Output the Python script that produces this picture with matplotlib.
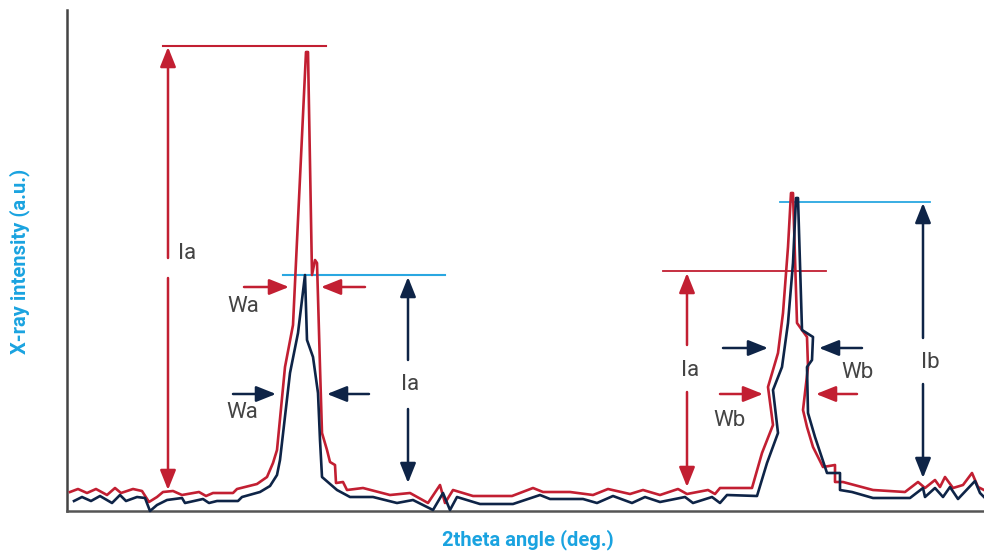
import matplotlib.pyplot as plt

# Data (2theta position, intensity in arbitrary units)
red_x = [70, 78, 87, 96, 107, 115, 121, 133, 142, 149, 157, 163, 173, 182, 199, 206, 213, 233, 237, 257,
         267, 273, 277, 285, 293, 306, 308, 312, 315, 317, 318, 320, 322, 327, 330, 335, 336, 343, 347, 363,
         390, 410, 428, 440, 445, 453, 473, 512, 533, 543, 570, 593, 608, 630, 643, 660, 678, 687, 708, 715,
         720, 752, 762, 773, 768, 778, 783, 788, 791, 793, 797, 807, 808, 803, 807, 813, 823, 835, 835, 843,
         873, 905, 918, 925, 935, 940, 945, 953, 963, 972, 978, 984]
red_y = [19, 22, 18, 22, 16, 23, 18, 22, 20, 9, 14, 19, 20, 16, 19, 15, 18, 18, 22, 27,
         34, 48, 61, 144, 186, 459, 459, 236, 251, 248, 214, 144, 78, 61, 49, 46, 28, 29, 21, 23,
         16, 18, 8, 26, 8, 21, 15, 15, 23, 19, 19, 16, 22, 17, 21, 16, 22, 17, 21, 17,
         23, 23, 58, 86, 124, 158, 198, 264, 318, 318, 188, 174, 144, 101, 84, 64, 44, 46, 29, 29,
         21, 19, 29, 23, 31, 24, 34, 23, 26, 38, 24, 21]

navy_x = [74, 82, 91, 100, 112, 120, 126, 137, 145, 150, 157, 167, 182, 185, 203, 209, 217, 238, 242, 260,
          270, 277, 280, 290, 298, 305, 307, 313, 318, 320, 322, 337, 350, 373, 397, 413, 433, 443, 450, 457,
          480, 513, 540, 550, 583, 597, 613, 632, 645, 660, 685, 693, 712, 720, 727, 757, 767, 778, 773, 782,
          788, 793, 796, 798, 802, 813, 812, 807, 808, 815, 827, 840, 840, 852, 873, 910, 923, 925, 935, 943,
          950, 958, 975, 980, 984]
navy_y = [10, 14, 10, 15, 8, 16, 10, 14, 13, 0, 6, 11, 13, 8, 12, 8, 10, 10, 14, 19,
          25, 36, 51, 138, 178, 236, 171, 154, 118, 71, 34, 21, 14, 14, 8, 11, 1, 18, 1, 14,
          7, 7, 16, 12, 12, 8, 15, 8, 14, 9, 14, 8, 14, 8, 16, 15, 48, 78, 121, 144,
          188, 248, 313, 313, 181, 174, 151, 144, 98, 74, 38, 38, 21, 19, 13, 13, 23, 14, 23, 14,
          24, 12, 30, 18, 14]

RED = '#C21F32'
NAVY = '#0E2447'
BLUE = '#2AA7E1'
GRAY = '#444444'

plt.rcParams['font.family'] = ['Roboto', 'DejaVu Sans']

fig = plt.figure(figsize=(9.84, 5.53), dpi=100)
ax = fig.add_axes([67 / 984, 42 / 553, 917 / 984, 501 / 553])
ax.set_xlim(67, 984)
ax.set_ylim(0, 501)

ax.plot(red_x, red_y, color=RED, lw=1.9, clip_on=False, zorder=3)
ax.plot(navy_x, navy_y, color=NAVY, lw=1.9, clip_on=False, zorder=4)

# reference lines
ax.plot([163, 326], [465, 465], color=RED, lw=1.5)
ax.plot([283, 445], [236, 236], color=BLUE, lw=1.5)
ax.plot([663, 826], [240, 240], color=RED, lw=1.3)
ax.plot([780, 930], [309, 309], color=BLUE, lw=1.3)


def arrow(x0, y0, x1, y1, color):
    ax.annotate('', xy=(x1, y1), xytext=(x0, y0),
                arrowprops=dict(arrowstyle='-|>,head_length=0.6,head_width=0.24',
                                mutation_scale=20, lw=1.8, color=color,
                                shrinkA=0, shrinkB=0), zorder=5)


def label(x, y, s, ha='center'):
    ax.text(x, y, s, ha=ha, va='center', fontsize=16, color=GRAY, zorder=6)


# left peak intensities
arrow(168, 253, 168, 464, RED)
arrow(168, 233, 168, 21, RED)
label(178, 258, 'Ia', ha='left')
arrow(408, 151, 408, 234, NAVY)
arrow(408, 102, 408, 28, NAVY)
label(410, 126, 'Ia')

# left peak widths
arrow(244, 224, 289, 224, RED)
arrow(365, 224, 321, 224, RED)
label(243, 204, 'Wa')
arrow(233, 117, 276, 117, NAVY)
arrow(369, 117, 327, 117, NAVY)
label(242, 98, 'Wa')

# right peak intensities
arrow(687, 166, 687, 238, RED)
arrow(687, 119, 687, 24, RED)
label(690, 141, 'Ia')
arrow(923, 173, 923, 308, NAVY)
arrow(923, 127, 923, 33, NAVY)
label(930, 149, 'Ib')

# right peak widths
arrow(723, 163, 768, 163, NAVY)
arrow(862, 163, 819, 163, NAVY)
label(857, 138, 'Wb')
arrow(720, 117, 763, 117, RED)
arrow(857, 117, 816, 117, RED)
label(729, 91, 'Wb')

for side in ['top', 'right']:
    ax.spines[side].set_visible(False)
ax.spines['left'].set_color('#444444')
ax.spines['left'].set_linewidth(1.8)
ax.spines['bottom'].set_color('#555555')
ax.spines['bottom'].set_linewidth(1.8)
ax.set_xticks([])
ax.set_yticks([])

fig.text(20 / 984, 1 - 261 / 553, 'X-ray intensity (a.u.)', rotation=90, ha='center', va='center',
         fontsize=14.5, fontweight='bold', color='#1AA3E0')
fig.text(528 / 984, 1 - 540 / 553, '2theta angle (deg.)', ha='center', va='center',
         fontsize=14.5, fontweight='bold', color='#1AA3E0')

plt.savefig('out.png', dpi=100)
plt.close()
